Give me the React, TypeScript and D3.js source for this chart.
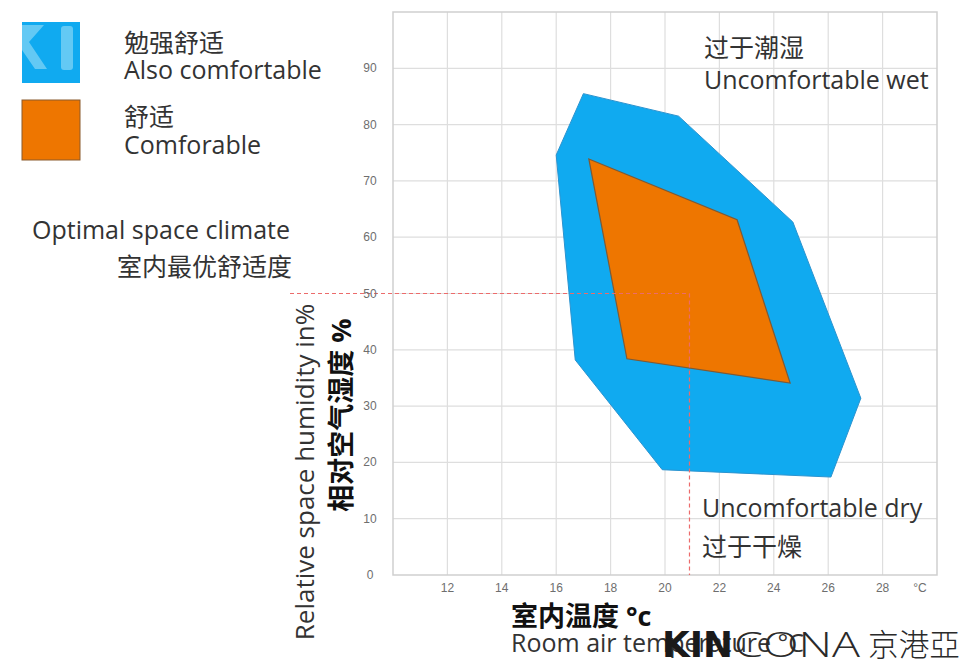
import * as d3 from "d3";

// Values: [room temperature °C, relative humidity %]
const alsoComfortable: [number, number][] = [
  [17.0, 85.5],
  [20.5, 81.5],
  [24.7, 62.7],
  [27.2, 31.4],
  [26.1, 17.4],
  [19.9, 18.7],
  [16.7, 38.2],
  [16.0, 74.6],
];
const comfortable: [number, number][] = [
  [17.2, 73.9],
  [22.65, 63.1],
  [24.6, 34.1],
  [18.6, 38.4],
];
const tempTicks = [12, 14, 16, 18, 20, 22, 24, 26, 28];
const tempGrid = [12, 14, 16, 18, 20, 22, 24, 26, 28];
const humidityTicks = [0, 10, 20, 30, 40, 50, 60, 70, 80, 90];
const humidityGrid = [10, 20, 30, 40, 50, 60, 70, 80, 90];
const optimalTemp = 20.9;
const optimalHumidity = 50;

const BLUE = "#10aaf0";
const ORANGE = "#ee7600";
const TEXT = "#333";
const FONT = "'Open Sans', 'Noto Sans CJK SC', sans-serif";
const TICK_FONT = "'Liberation Sans', Arial, sans-serif";

export default function App() {
  const width = 971;
  const height = 670;
  const plot = { left: 393, right: 937, top: 12, bottom: 575 };

  const x = d3.scaleLinear().domain([10, 30]).range([plot.left, plot.right]);
  const y = d3.scaleLinear().domain([0, 100]).range([plot.bottom, plot.top]);

  const line = d3
    .line<[number, number]>()
    .x((d) => x(d[0]))
    .y((d) => y(d[1]))
    .curve(d3.curveLinearClosed);

  return (
    <svg
      width={width}
      height={height}
      style={{ position: "absolute", left: 0, top: 0, background: "#fff" }}
      fontFamily={FONT}
    >
      {/* grid + frame */}
      {tempGrid.map((t) => (
        <line
          key={`gx-${t}`}
          x1={x(t)}
          x2={x(t)}
          y1={plot.top}
          y2={plot.bottom}
          stroke="#dedede"
          strokeWidth={1.2}
        />
      ))}
      {humidityGrid.map((h) => (
        <line
          key={`gy-${h}`}
          x1={plot.left}
          x2={plot.right}
          y1={y(h)}
          y2={y(h)}
          stroke="#dedede"
          strokeWidth={1.2}
        />
      ))}
      <rect
        x={plot.left}
        y={plot.top}
        width={plot.right - plot.left}
        height={plot.bottom - plot.top}
        fill="none"
        stroke="#cfcfcf"
        strokeWidth={1.5}
      />

      {/* comfort zones */}
      <path d={line(alsoComfortable) || ""} fill={BLUE} stroke="#2b93cf" strokeWidth={1} />
      <path d={line(comfortable) || ""} fill={ORANGE} stroke="#7d5a36" strokeWidth={1.2} />

      {/* optimal point guides */}
      <line
        x1={290}
        x2={x(optimalTemp)}
        y1={y(optimalHumidity)}
        y2={y(optimalHumidity)}
        stroke="#ec6b6b"
        strokeWidth={1.2}
        strokeDasharray="4 3"
      />
      <line
        x1={x(optimalTemp)}
        x2={x(optimalTemp)}
        y1={y(optimalHumidity)}
        y2={plot.bottom}
        stroke="#ec6b6b"
        strokeWidth={1.2}
        strokeDasharray="4 3"
      />

      {/* tick labels */}
      {tempTicks.map((t) => (
        <text
          key={`tx-${t}`}
          x={x(t)}
          y={592}
          textAnchor="middle"
          fontSize={12}
          fontFamily={TICK_FONT}
          fill="#6e6e6e"
        >
          {t}
        </text>
      ))}
      <text x={920} y={592} textAnchor="middle" fontSize={12} fontFamily={TICK_FONT} fill="#6e6e6e">
        °C
      </text>
      {humidityTicks.map((h) => (
        <text
          key={`ty-${h}`}
          x={370}
          y={y(h) + 4}
          textAnchor="middle"
          fontSize={12}
          fontFamily={TICK_FONT}
          fill="#6e6e6e"
        >
          {h}
        </text>
      ))}

      {/* legend */}
      <g transform="translate(22,22)">
        <rect width={58} height={61} fill={BLUE} />
        <path d="M0,3 L22,3 L7,20 L25,47 L13,47 L0,28 Z" fill="#7fd3f6" opacity={0.75} />
        <rect x={39} y={4} width={12} height={44} rx={3} fill="#7fd3f6" opacity={0.75} />
      </g>
      <rect x={22} y={100} width={58} height={60} fill={ORANGE} stroke="#8a5a2c" strokeWidth={1} />
      <text x={124} y={52} fontSize={25} fill={TEXT}>勉强舒适</text>
      <text x={124} y={79} fontSize={25} fill={TEXT}>Also comfortable</text>
      <text x={124} y={126} fontSize={25} fill={TEXT}>舒适</text>
      <text x={124} y={154} fontSize={25} fill={TEXT}>Comforable</text>

      <text x={290} y={239} textAnchor="end" fontSize={25} fill={TEXT}>Optimal space climate</text>
      <text x={292} y={276} textAnchor="end" fontSize={25} fill={TEXT}>室内最优舒适度</text>

      {/* zone annotations */}
      <text x={704} y={57} fontSize={25} fill={TEXT}>过于潮湿</text>
      <text x={704} y={89} fontSize={25} fill={TEXT}>Uncomfortable wet</text>
      <text x={702} y={517} fontSize={25} fill={TEXT}>Uncomfortable dry</text>
      <text x={702} y={556} fontSize={25} fill={TEXT}>过于干燥</text>

      {/* axis titles */}
      <text transform="translate(314,472) rotate(-90)" textAnchor="middle" fontSize={26} fill={TEXT}>
        Relative space humidity in%
      </text>
      <text transform="translate(351,415) rotate(-90)" textAnchor="middle" fontSize={27} fontWeight={700} fill="#111">
        相对空气湿度 %
      </text>
      <text x={511} y={626} fontSize={27} fontWeight={700} fill="#111">室内温度 °c</text>
      <text x={511} y={652} fontSize={25} fill={TEXT}>Room air temperature °C</text>

      {/* watermark */}
      <text x={662} y={657} fontSize={35} fontFamily="'DejaVu Sans', sans-serif" fontWeight={900} fill="#1a1a1a" textLength={71} lengthAdjust="spacingAndGlyphs">
        KIN
      </text>
      <text x={734} y={657} fontSize={35} fontFamily="'Open Sans', sans-serif" fontWeight={300} fill="#2a2a2a" textLength={126} lengthAdjust="spacingAndGlyphs">
        CONA
      </text>
      <text x={868} y={656} fontSize={31} fontFamily="'Noto Sans CJK TC', sans-serif" fontWeight={300} fill="#2a2a2a" textLength={92} lengthAdjust="spacingAndGlyphs">
        京港亞
      </text>
    </svg>
  );
}
